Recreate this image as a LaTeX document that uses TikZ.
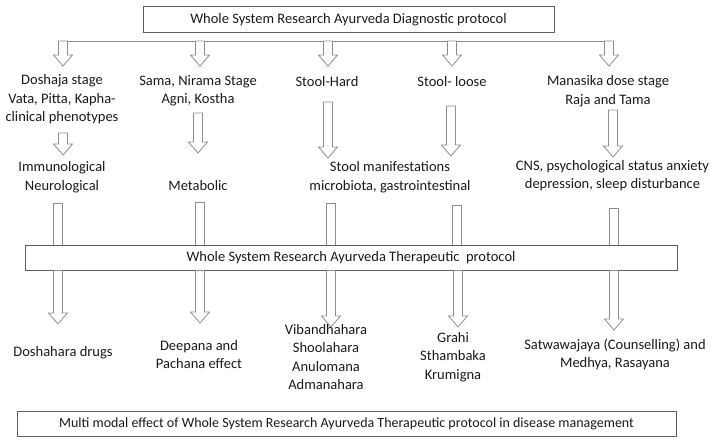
\documentclass[tikz,border=0pt]{standalone}
\usepackage{fontspec}
\setmainfont{Carlito}
\usetikzlibrary{calc}
\definecolor{arrowgray}{HTML}{8E8E8E}
\definecolor{boxgray}{HTML}{5E5E5E}
\definecolor{txtgray}{HTML}{1A1A1A}
\tikzset{
	lbl/.style={align=center, text=txtgray, inner sep=0pt, font=\fontsize{14.5}{18.5}\selectfont},
	protbox/.style={draw=boxgray, line width=0.9pt, text=txtgray, inner sep=0pt, minimum height=25pt, font=\fontsize{14.5}{18.5}\selectfont},
	blkarrow/.style={draw=arrowgray, line width=0.8pt, fill=white,
		to path={let \p1=(\tikztostart), \p2=(\tikztotarget) in
			(\x1-4.5pt,\y1) -- (\x1-4.5pt,\y2+11pt) -- (\x1-9.5pt,\y2+11pt) -- (\x1,\y2)
			-- (\x1+9.5pt,\y2+11pt) -- (\x1+4.5pt,\y2+11pt) -- (\x1+4.5pt,\y1) -- cycle}},
	shaft/.style={draw=arrowgray, line width=0.8pt, fill=white,
		to path={let \p1=(\tikztostart), \p2=(\tikztotarget) in
			(\x1-4.5pt,\y2) -- (\x1-4.5pt,\y1) -- (\x1+4.5pt,\y1) -- (\x1+4.5pt,\y2)}}
}
\begin{document}
\begin{tikzpicture}[x=1pt,y=-1pt]
			\useasboundingbox (0,0) rectangle (715,443);
			
			\node[protbox, minimum width=411pt, minimum height=26pt] (Diag) at (348.5,19.5) {Whole System Research Ayurveda Diagnostic protocol};
			\node[protbox, minimum width=652pt] (Ther) at (351,257.5) {Whole System Research Ayurveda Therapeutic\ \ protocol};
			\node[protbox, minimum width=659pt, font=\fontsize{14}{18}\selectfont] (Multi) at (346.5,424) {Multi modal effect of Whole System Research Ayurveda Therapeutic protocol in disease management};
			
			% branch line under the diagnostic protocol
			\coordinate (L1) at (63,41); \coordinate (L2) at (200,41); \coordinate (L3) at (328,41);
			\coordinate (L4) at (452,41); \coordinate (L5) at (609,41);
			\draw[color=arrowgray, line width=0.9pt] (L1) -- (L5);
			
			\coordinate (h1) at (63,66); \coordinate (h2) at (200,66); \coordinate (h3) at (328,66);
			\coordinate (h4) at (452,66); \coordinate (h5) at (609,66);
			\foreach \i in {1,...,5} {\draw[blkarrow] (L\i) to (h\i);}
			
			% stage -> manifestation
			\coordinate (s1) at (63,133); \coordinate (t1) at (63,155);
			\coordinate (s2) at (198,113); \coordinate (t2) at (198,153);
			\coordinate (s3) at (328,102); \coordinate (t3) at (328,158);
			\coordinate (s4) at (451,106); \coordinate (t4) at (451,156);
			\coordinate (s5) at (613,110); \coordinate (t5) at (613,157);
			\foreach \i in {1,...,5} {\draw[blkarrow] (s\i) to (t\i);}
			
			% manifestation -> therapeutic protocol
			\coordinate (u1) at (58,203); \coordinate (u2) at (200,202); \coordinate (u3) at (331,203);
			\coordinate (u4) at (457,205); \coordinate (u5) at (614,208);
			\foreach \i in {1,...,5} {\draw[shaft] (u\i) to (u\i |- Ther.north);}
			
			% therapeutic protocol -> effects
			\coordinate (v1) at (58,324); \coordinate (v2) at (200,323); \coordinate (v3) at (331,327);
			\coordinate (v4) at (458,327); \coordinate (v5) at (614,330);
			\foreach \i in {1,...,5} {\draw[blkarrow] (v\i |- Ther.south) to (v\i);}
			
			% stages
			\node[lbl] (D1) at (62,99.5) {Doshaja stage\\Vata, Pitta, Kapha-\\clinical phenotypes};
			\node[lbl] (D2) at (198,91) {Sama, Nirama Stage\\Agni, Kostha};
			\node[lbl] (D3) at (327,82) {Stool-Hard};
			\node[lbl] (D4) at (452,82) {Stool- loose};
			\node[lbl] (D5) at (608,91) {Manasika dose stage\\Raja and Tama};
			%
			\node[lbl] (M1) at (62,177) {Immunological\\Neurological};
			\node[lbl] (M2) at (198,186) {Metabolic};
			\node[lbl] (M3) at (390,177) {Stool manifestations\\microbiota, gastrointestinal};
			\node[lbl] (M4) at (612.5,175.5) {CNS, psychological status anxiety\\depression, sleep disturbance};
			%
			\node[lbl] (E1) at (63,353) {Doshahara drugs};
			\node[lbl] (E2) at (199,354.5) {Deepana and\\Pachana effect};
			\node[lbl] (E3) at (326,357) {Vibandhahara\\Shoolahara\\Anulomana\\Admanahara};
			\node[lbl] (E4) at (453,357) {Grahi\\Sthambaka\\Krumigna};
			\node[lbl] (E5) at (615,354.5) {Satwawajaya (Counselling) and\\Medhya, Rasayana};
			
\end{tikzpicture}
\end{document}
